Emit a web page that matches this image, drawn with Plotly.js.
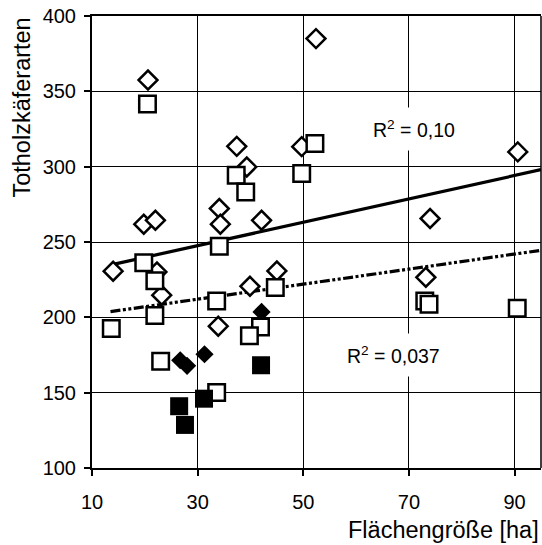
<!DOCTYPE html>
<html>
<head>
<meta charset="utf-8">
<script src="https://cdn.plot.ly/plotly-3.0.1.min.js"></script>
<style>html,body{margin:0;padding:0;background:#fff;}#chart{width:542px;height:545px;}</style>
</head>
<body>
<div id="chart"></div>
<script>
// Open diamonds
const openDiamondX = [20.6, 19.8, 22.0, 14.0, 22.3, 23.2, 52.4, 37.4, 39.3, 49.7, 34.1, 34.3, 42.1, 45.0, 39.9, 33.9, 74.0, 73.2, 90.6];
const openDiamondY = [357.5, 261.8, 264.4, 230.6, 230.1, 214.7, 385.0, 313.5, 299.8, 313.3, 272.2, 261.8, 264.4, 230.8, 220.6, 194.1, 265.6, 226.6, 309.8];
// Filled diamonds
const filledDiamondX = [26.7, 28.0, 31.3, 42.1];
const filledDiamondY = [171.5, 167.8, 175.5, 203.6];
// Open squares
const openSquareX = [20.5, 19.8, 21.9, 21.9, 13.65, 23.0, 33.6, 37.3, 39.1, 52.2, 49.7, 34.1, 44.7, 33.6, 41.9, 39.8, 73.0, 73.8, 90.5];
const openSquareY = [341.6, 236.2, 224.3, 201.2, 192.6, 170.9, 150.1, 294.3, 283.2, 315.3, 295.4, 247.2, 219.8, 210.9, 193.6, 187.8, 210.9, 208.7, 206.0];
// Filled squares
const filledSquareX = [26.5, 27.6, 31.2, 42.0];
const filledSquareY = [141.0, 128.6, 146.0, 168.2];
// Trend lines
const trendDiamondX = [13.8, 95];
const trendDiamondY = [235.0, 298.0];
const trendSquareX = [13.5, 95];
const trendSquareY = [203.8, 244.5];
// Ticks and labels
const xTicks = [10, 30, 50, 70, 90];
const yTicks = [100, 150, 200, 250, 300, 350, 400];
const xTitle = 'Flächengröße [ha]';
const yTitle = 'Totholzkäferarten';
const r2Diamond = 'R<sup>2</sup> = 0,10';
const r2Square = 'R<sup>2</sup> = 0,037';

const FONT = '"Liberation Sans", Arial, sans-serif';

const traces = [
  {x: trendDiamondX, y: trendDiamondY, mode: 'lines', line: {color: '#000', width: 3.2}, hoverinfo: 'skip'},
  {x: trendSquareX, y: trendSquareY, mode: 'lines', line: {color: '#000', width: 3.2, dash: '10px,2.5px,3px,2.5px,3px,2.5px'}, hoverinfo: 'skip'},
  {x: openDiamondX, y: openDiamondY, mode: 'markers', marker: {symbol: 'diamond', size: 14.5, color: '#fff', line: {color: '#000', width: 2.5}}},
  {x: filledDiamondX, y: filledDiamondY, mode: 'markers', marker: {symbol: 'diamond', size: 14, color: '#000', line: {width: 0}}},
  {x: openSquareX, y: openSquareY, mode: 'markers', marker: {symbol: 'square', size: 16.5, color: '#fff', line: {color: '#000', width: 2.5}}},
  {x: filledSquareX, y: filledSquareY, mode: 'markers', marker: {symbol: 'square', size: 18, color: '#000', line: {width: 0}}}
];

const layout = {
  width: 542, height: 545,
  margin: {l: 92, r: 1, t: 16, b: 77, pad: 0},
  paper_bgcolor: '#fff', plot_bgcolor: '#fff',
  showlegend: false,
  font: {family: FONT, color: '#000'},
  xaxis: {
    range: [10, 95], tickvals: xTicks, ticktext: xTicks.map(String),
    showgrid: true, gridcolor: '#000', gridwidth: 1,
    showline: true, linecolor: '#000', linewidth: 2, mirror: true,
    ticks: 'outside', ticklen: 6, tickwidth: 2, tickcolor: '#000',
    tickfont: {size: 20, family: FONT, color: '#000'},
    ticklabelstandoff: 9,
    zeroline: false
  },
  yaxis: {
    range: [100, 400], tickvals: yTicks, ticktext: yTicks.map(String),
    showgrid: true, gridcolor: '#000', gridwidth: 1,
    showline: true, linecolor: '#000', linewidth: 2, mirror: false,
    ticks: 'outside', ticklen: 6, tickwidth: 2, tickcolor: '#000',
    tickfont: {size: 20, family: FONT, color: '#000'},
    ticklabelstandoff: 4,
    zeroline: false
  },
  shapes: [
    {type: 'line', xref: 'paper', yref: 'paper', x0: 1, x1: 1, y0: 0, y1: 1, line: {color: '#000', width: 1.5}}
  ],
  annotations: [
    {text: yTitle, xref: 'paper', yref: 'paper', x: -0.1557, y: 0.7976, xanchor: 'center', yanchor: 'middle', textangle: -90, showarrow: false, font: {size: 23.5, family: FONT, color: '#000'}},
    {text: xTitle, xref: 'paper', yref: 'paper', x: 1, y: -0.138, xanchor: 'right', yanchor: 'middle', showarrow: false, font: {size: 23.5, family: FONT, color: '#000'}},
    {text: r2Diamond, xref: 'x', yref: 'y', x: 71.0, y: 324.8, xanchor: 'center', yanchor: 'middle', showarrow: false, bgcolor: '#fff', borderpad: 9, font: {size: 19.5, family: FONT, color: '#000'}},
    {text: r2Square, xref: 'x', yref: 'y', x: 67.0, y: 174.9, xanchor: 'center', yanchor: 'middle', showarrow: false, bgcolor: '#fff', borderpad: 9, font: {size: 19.5, family: FONT, color: '#000'}}
  ]
};

Plotly.newPlot('chart', traces, layout, {displayModeBar: false, staticPlot: true});
</script>
</body>
</html>
